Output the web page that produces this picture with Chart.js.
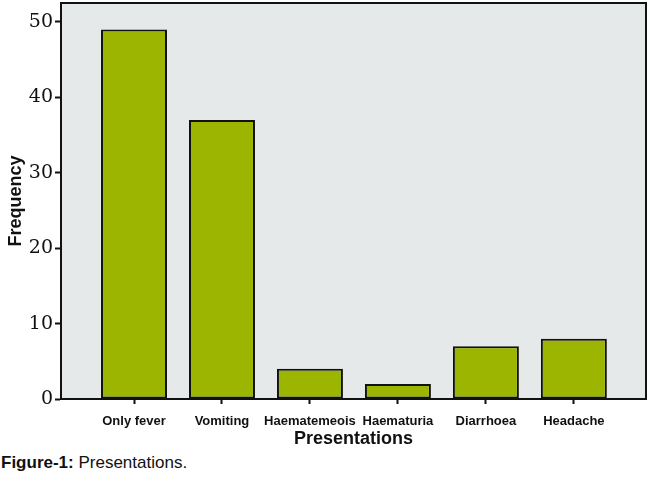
<!DOCTYPE html>
<html>
<head>
<meta charset="utf-8">
<script src="https://cdn.jsdelivr.net/npm/chart.js@4"></script>
<style>
  html, body { margin: 0; padding: 0; background: #fff; }
  #wrap { position: relative; width: 650px; height: 477px; }
  #box { position: absolute; left: 0; top: 0; width: 650px; height: 450px; }
  #caption {
    position: absolute; left: 1px; top: 453px;
    font-family: 'Liberation Sans', Arial, sans-serif;
    font-size: 17px; color: #111; white-space: nowrap;
  }
  #caption b { font-weight: bold; }
</style>
</head>
<body>
<div id="wrap">
  <div id="box"><canvas id="myChart"></canvas></div>
  <div id="caption"><b>Figure-1:</b> Presentations.</div>
</div>
<script>
// bar chart of presentations (frequency per symptom)
const categories = ['Only fever', 'Vomiting', 'Haematemeois', 'Haematuria', 'Diarrhoea', 'Headache'];
const frequency = [49, 37, 4, 2, 7, 8];
const yTicks = [0, 10, 20, 30, 40, 50];

const sans = "'Liberation Sans', Arial, sans-serif";

// grey plot panel with a black frame, like the SPSS output
const panel = {
  id: 'panel',
  beforeDatasetsDraw(chart) {
    const {ctx, chartArea: a} = chart;
    ctx.save();
    ctx.fillStyle = '#e6e9ea';
    ctx.fillRect(a.left, a.top, a.right - a.left, a.bottom - a.top);
    ctx.restore();
  },
  afterDraw(chart) {
    const {ctx, chartArea: a} = chart;
    ctx.save();
    ctx.strokeStyle = '#111';
    ctx.lineWidth = 2;
    ctx.strokeRect(a.left, a.top, a.right - a.left, a.bottom - a.top);
    ctx.restore();
  }
};

const points = frequency.map((v, i) => ({x: i, y: v}));

new Chart(document.getElementById('myChart'), {
  type: 'bar',
  data: {
    datasets: [{
      data: points,
      backgroundColor: '#9cb500',
      borderColor: '#111',
      borderWidth: 2,
      borderSkipped: false,
      categoryPercentage: 1,
      barPercentage: 0.75
    }]
  },
  options: {
    responsive: true,
    maintainAspectRatio: false,
    animation: false,
    layout: { padding: { top: 3, right: 4, left: 0, bottom: 0 } },
    plugins: { legend: { display: false }, tooltip: { enabled: false } },
    scales: {
      x: {
        type: 'linear',
        min: -0.83,
        max: 5.82,
        offset: false,
        afterFit(scale) {
          scale.height = 51;
          scale.paddingLeft = 0;
          scale.paddingRight = 0;
        },
        afterBuildTicks(scale) {
          scale.ticks = categories.map((c, i) => ({value: i}));
        },
        ticks: {
          stepSize: 1,
          includeBounds: false,
          padding: 10,
          color: '#111',
          maxRotation: 0,
          autoSkip: false,
          font: { family: sans, size: 13, weight: 'bold' },
          callback: (v) => categories[v] ?? ''
        },
        grid: { offset: false, drawOnChartArea: false, drawTicks: true, tickLength: 5, tickColor: '#111', tickWidth: 2 },
        border: { display: true, color: '#111', width: 2 },
        title: {
          display: true,
          text: 'Presentations',
          color: '#111',
          padding: { top: 0, bottom: 2 },
          font: { family: sans, size: 18, weight: 'bold', lineHeight: 1 }
        }
      },
      y: {
        min: 0,
        max: 52.5,
        afterFit(scale) {
          scale.width = 61;
          scale.paddingTop = 0;
          scale.paddingBottom = 0;
        },
        afterBuildTicks(scale) {
          scale.ticks = yTicks.map(v => ({value: v}));
        },
        ticks: {
          stepSize: 10,
          includeBounds: false,
          padding: 2,
          color: '#111',
          font: { family: "'DejaVu Serif', 'Liberation Serif', serif", size: 19 }
        },
        grid: { drawOnChartArea: false, drawTicks: true, tickLength: 6, tickColor: '#111', tickWidth: 2 },
        border: { display: true, color: '#111', width: 2 },
        title: {
          display: true,
          text: 'Frequency',
          color: '#111',
          padding: { top: 7, bottom: 0 },
          font: { family: sans, size: 18, weight: 'bold', lineHeight: 1 }
        }
      }
    }
  },
  plugins: [panel]
});
</script>
</body>
</html>
